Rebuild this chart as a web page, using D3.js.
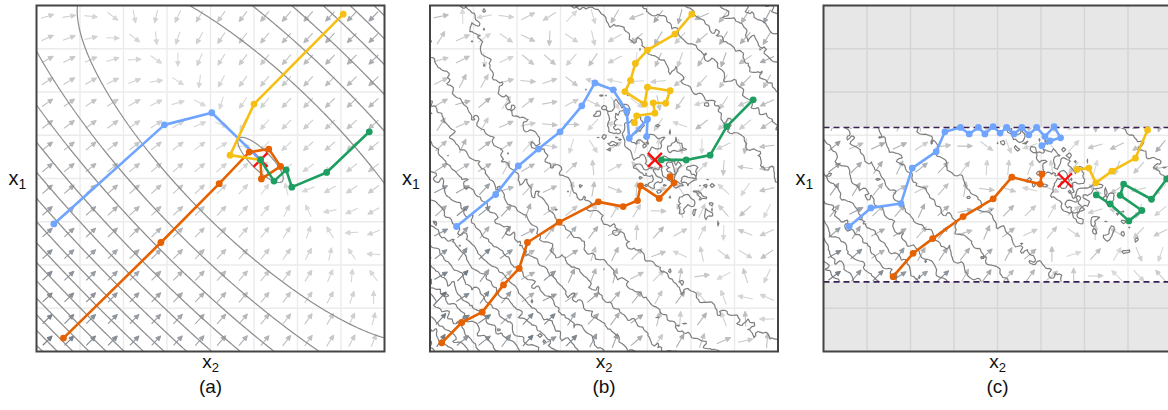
<!DOCTYPE html>
<html><head><meta charset="utf-8">
<script src="https://cdn.jsdelivr.net/npm/d3@7"></script>
<style>body{margin:0;background:#fff;} svg{display:block;} text{font-family:"Liberation Sans",Arial,Helvetica,sans-serif;fill:#111;}</style>
</head><body><svg id="chart" width="1168" height="410"></svg>
<script>
// ---------- data ----------
const panelLabels = ["(a)", "(b)", "(c)"];
const xAxisLabel = ["x", "2"];
const yAxisLabel = ["x", "1"];
const domainX2 = [0, 8];
const domainX1 = [0, 8];
const gridTicks = [1, 2, 3, 4, 5, 6, 7];
const minimumA = [5.15, 4.43];
const minimumB = [5.17, 4.43];
const minimumC = [5.55, 3.96];
const constraintC = [1.61, 5.18];          // x1 bounds of the feasible band in (c)
const fieldCurvature = [1, 0.1];            // along diagonal, along anti-diagonal
const contourStep = 3.18;
const contourOffset = 0.05;
const noiseBase = [0, 0.65, 0.65];          // contour texture per panel
const noiseGrowth = [0, 0.03, 0.03];
const arrowNoise = [0, 2.5, 2.5];

const aBlue   = [[0.40,2.95],[2.94,5.24],[4.03,5.52],[5.15,4.43]];
const aOrange = [[0.62,0.31],[2.86,2.52],[4.20,3.88],[4.89,4.61],[5.34,4.68],[5.61,4.28],[5.17,3.99],[5.15,4.43]];
const aYellow = [[7.05,7.80],[5.00,5.72],[4.45,4.54],[5.15,4.43]];
const aGreen  = [[7.65,5.08],[6.67,4.14],[5.87,3.80],[5.74,4.20],[5.46,3.94],[5.15,4.43]];

const bBlue   = [[0.61,2.89],[1.51,3.63],[2.03,4.29],[2.49,4.68],[2.99,5.08],[3.49,5.68],[3.79,6.21],[4.21,6.05],[4.52,5.56],[4.58,4.93],[5.00,5.37],[4.98,4.97]];
const bOrange = [[0.27,0.20],[0.73,0.67],[1.20,0.91],[1.69,1.54],[2.05,1.92],[2.24,2.52],[2.97,2.99],[3.87,3.46],[4.44,3.35],[4.77,3.49],[4.84,3.83],[5.27,3.54],[5.61,3.90],[5.52,4.04]];
const bYellow = [[6.02,7.80],[5.63,7.34],[5.00,6.97],[4.72,6.66],[4.61,6.27],[4.48,6.01],[4.93,5.72],[5.00,6.11],[5.52,6.03],[5.42,5.74],[5.13,5.75],[5.17,5.51],[4.75,5.45],[4.70,5.29]];
const bGreen  = [[7.43,5.82],[6.82,5.20],[6.44,4.54],[5.89,4.43],[5.32,4.43]];

const cBlue   = [[0.59,2.89],[1.09,3.32],[1.78,3.42],[2.04,4.24],[2.59,4.62],[2.79,5.08],[3.15,5.18],[3.35,5.03],[3.56,5.18],[3.71,5.03],[3.90,5.20],[4.06,5.05],[4.21,5.18],[4.38,5.03],[4.56,5.18],[4.72,5.01],[4.90,5.18],[5.09,4.97],[5.30,5.20],[5.45,4.94],[5.21,4.87],[5.02,4.76]];
const cOrange = [[1.60,1.73],[2.06,2.27],[2.51,2.61],[3.21,3.12],[3.90,3.53],[4.33,4.03],[4.98,3.87],[5.02,4.10]];
const cYellow = [[7.45,5.12],[7.17,4.47],[6.63,4.17],[6.26,3.90],[6.10,4.24],[5.83,4.21]];
const cGreen  = [[8.30,4.70],[7.89,3.99],[7.54,3.52],[6.90,3.87],[6.82,3.61],[7.32,3.26],[7.02,3.02],[6.59,3.41],[6.27,3.62]];

const seriesNames = ["blue", "orange", "yellow", "green"];
const seriesColors = ["#6fa5ff", "#e66100", "#f5c013", "#1f9e62"];

// ---------- layout ----------
const panelLeft = [36.5, 430, 823.5];
const TOP = 5.5, W = 348, H = 346;
const svg = d3.select("#chart");
const defs = svg.append("defs");

function hash(i, j, s) { const h = Math.sin(i * 127.1 + j * 311.7 + s * 74.7) * 43758.5453; return h - Math.floor(h); }
function vnoise(px, py, cell, seed) {
  const gx = px / cell, gy = py / cell, i = Math.floor(gx), j = Math.floor(gy);
  const fx = gx - i, fy = gy - j, sx = fx * fx * (3 - 2 * fx), sy = fy * fy * (3 - 2 * fy);
  const a = hash(i, j, seed), b = hash(i + 1, j, seed), c = hash(i, j + 1, seed), d = hash(i + 1, j + 1, seed);
  return (a * (1 - sx) + b * sx) * (1 - sy) + (c * (1 - sx) + d * sx) * sy - 0.5;
}
function texture(px, py, seed) { return 2 * (vnoise(px, py, 6, seed) + 0.5 * vnoise(px, py, 3, seed + 7)) / 1.5; }

function fieldF(c) { return (x2, x1) => { const dx = x2 - c[0], dy = x1 - c[1]; const u = (dx + dy) / Math.SQRT2, v = (dx - dy) / Math.SQRT2; return fieldCurvature[0] * u * u + fieldCurvature[1] * v * v; }; }
function fieldG(c) { return (x2, x1) => { const dx = x2 - c[0], dy = x1 - c[1]; const u = (dx + dy) / Math.SQRT2, v = (dx - dy) / Math.SQRT2;
  return [(2 * fieldCurvature[0] * u + 2 * fieldCurvature[1] * v) / Math.SQRT2, (2 * fieldCurvature[0] * u - 2 * fieldCurvature[1] * v) / Math.SQRT2]; }; }

const panels = [
  { center: minimumA, series: [aBlue, aOrange, aYellow, aGreen], band: null, arrowLen: 13 },
  { center: minimumB, series: [bBlue, bOrange, bYellow, bGreen], band: null, arrowLen: 15 },
  { center: minimumC, series: [cBlue, cOrange, cYellow, cGreen], band: constraintC, arrowLen: 15 }
];

const arrowColor = d3.interpolateRgb("#dadada", "#66707a");

panels.forEach((P, p) => {
  const L = panelLeft[p];
  const x = d3.scaleLinear().domain(domainX2).range([L, L + W]);
  const y = d3.scaleLinear().domain(domainX1).range([TOP + H, TOP]);
  const g = svg.append("g");
  const clipId = "clip" + p, bandId = "band" + p;
  defs.append("clipPath").attr("id", clipId).append("rect").attr("x", L).attr("y", TOP).attr("width", W).attr("height", H);
  const bandTop = P.band ? y(P.band[1]) : TOP, bandBot = P.band ? y(P.band[0]) : TOP + H;
  defs.append("clipPath").attr("id", bandId).append("rect").attr("x", L).attr("y", bandTop).attr("width", W).attr("height", bandBot - bandTop);

  g.append("rect").attr("x", L).attr("y", TOP).attr("width", W).attr("height", H).attr("fill", "#fff");
  const gridG = g.append("g").attr("clip-path", `url(#${clipId})`);
  gridTicks.forEach(t => {
    gridG.append("line").attr("x1", x(t)).attr("x2", x(t)).attr("y1", TOP).attr("y2", TOP + H).attr("stroke", "#ebebeb").attr("stroke-width", 1.4);
    gridG.append("line").attr("y1", y(t)).attr("y2", y(t)).attr("x1", L).attr("x2", L + W).attr("stroke", "#ebebeb").attr("stroke-width", 1.4);
  });

  const F = fieldF(P.center), G = fieldG(P.center);
  const inner = g.append("g").attr("clip-path", `url(#${bandId})`);

  // arrows
  const arrowG = inner.append("g");
  const n = 16;
  for (let i = 0; i < n; i++) for (let j = 0; j < n; j++) {
    const x2 = (i + 0.5) * 8 / n, x1 = (j + 0.5) * 8 / n;
    let gr = G(x2, x1);
    if (arrowNoise[p] > 0) {
      gr = [gr[0] + (hash(i, j, p * 10 + 3) - 0.5) * 2 * arrowNoise[p], gr[1] + (hash(i, j, p * 10 + 5) - 0.5) * 2 * arrowNoise[p]];
    }
    const mag = Math.hypot(gr[0], gr[1]);
    if (mag < 1e-6) continue;
    const ux = -gr[0] / mag, uy = gr[1] / mag;  // screen direction
    const cx = x(x2), cy = y(x1), len = P.arrowLen, hl = 4.5, hw = 4.2;
    const tx = cx - ux * len / 2, ty = cy - uy * len / 2;
    const hx = cx + ux * len / 2, hy = cy + uy * len / 2;
    const nx = hx - ux * hl, ny = hy - uy * hl;
    const col = arrowColor(Math.pow(Math.min(1, mag / 14), 1.25));
    arrowG.append("path")
      .attr("d", `M${tx},${ty}L${nx},${ny}M${hx},${hy}L${nx - uy * hw / 2},${ny + ux * hw / 2}L${nx + uy * hw / 2},${ny - ux * hw / 2}Z`)
      .attr("stroke", col).attr("fill", col).attr("stroke-width", 1.1).attr("stroke-linejoin", "round");
  }

  // contours
  const r = 2, m = 6;
  const nxg = Math.ceil(W / r) + 2 * m, nyg = Math.ceil(H / r) + 2 * m;
  const vals = new Float64Array(nxg * nyg);
  for (let j = 0; j < nyg; j++) for (let i = 0; i < nxg; i++) {
    const px = (i - m) * r, py = (j - m) * r;
    let v = F(x.invert(L + px), y.invert(TOP + py));
    if (noiseBase[p] > 0) v += (noiseBase[p] + noiseGrowth[p] * v) * texture(px, py, p * 31 + 1);
    vals[j * nxg + i] = v;
  }
  const thresholds = d3.range(contourOffset, 80, contourStep);
  const cont = d3.contours().size([nxg, nyg]).thresholds(thresholds)(vals);
  const path = d3.geoPath(d3.geoTransform({ point(xx, yy) { this.stream.point(L + (xx - m - 0.5) * r, TOP + (yy - m - 0.5) * r); } }));
  inner.append("g").selectAll("path").data(cont).join("path")
    .attr("d", path).attr("fill", "none").attr("stroke", p === 0 ? "#8e8e8e" : "#7e7e7e").attr("stroke-width", 1.2);

  // infeasible region in (c)
  if (P.band) {
    const outs = [[TOP, bandTop], [bandBot, TOP + H]];
    const gg = g.append("g").attr("clip-path", `url(#${clipId})`);
    outs.forEach(([a, b]) => {
      gg.append("rect").attr("x", L).attr("y", a).attr("width", W).attr("height", b - a).attr("fill", "#e7e7e7");
      gridTicks.forEach(t => {
        gg.append("line").attr("x1", x(t)).attr("x2", x(t)).attr("y1", a).attr("y2", b).attr("stroke", "#d5d5d5").attr("stroke-width", 1.4);
        const yy = y(t);
        if (yy > a && yy < b) gg.append("line").attr("x1", L).attr("x2", L + W).attr("y1", yy).attr("y2", yy).attr("stroke", "#d5d5d5").attr("stroke-width", 1.4);
      });
    });
    P.band.forEach(bv => {
      gg.append("line").attr("x1", L).attr("x2", L + W).attr("y1", y(bv)).attr("y2", y(bv))
        .attr("stroke", "#3a1f52").attr("stroke-width", 1.6).attr("stroke-dasharray", "6,4");
    });
  }

  const top = g.append("g").attr("clip-path", `url(#${clipId})`);
  // minimum marker
  const mx = x(P.center[0]), my = y(P.center[1]), s = 7;
  top.append("path").attr("d", `M${mx - s},${my - s}L${mx + s},${my + s}M${mx - s},${my + s}L${mx + s},${my - s}`)
    .attr("stroke", "#ff0d0d").attr("stroke-width", 2.4).attr("fill", "none");

  // trajectories
  const line = d3.line().x(d => x(d[0])).y(d => y(d[1]));
  P.series.forEach((pts, k) => {
    const sg = top.append("g");
    sg.append("path").attr("d", line(pts)).attr("fill", "none").attr("stroke", seriesColors[k]).attr("stroke-width", 2.6).attr("stroke-linejoin", "round");
    sg.selectAll("circle").data(pts).join("circle").attr("cx", d => x(d[0])).attr("cy", d => y(d[1]))
      .attr("r", 3.4).attr("fill", seriesColors[k]);
  });

  // frame
  g.append("rect").attr("x", L).attr("y", TOP).attr("width", W).attr("height", H).attr("fill", "none").attr("stroke", "#444").attr("stroke-width", 2);

  // labels
  const yl = g.append("text").attr("x", L - 28).attr("y", 185).attr("font-size", 20);
  yl.append("tspan").text(yAxisLabel[0]);
  yl.append("tspan").attr("dy", 4).attr("font-size", 14).text(yAxisLabel[1]);
  const xl = g.append("text").attr("x", L + W / 2).attr("y", 368).attr("font-size", 19).attr("text-anchor", "middle");
  xl.append("tspan").text(xAxisLabel[0]);
  xl.append("tspan").attr("dy", 4).attr("font-size", 13).text(xAxisLabel[1]);
  g.append("text").attr("x", L + W / 2).attr("y", 393).attr("font-size", 19).attr("text-anchor", "middle").text(panelLabels[p]);
});
</script></body></html>
